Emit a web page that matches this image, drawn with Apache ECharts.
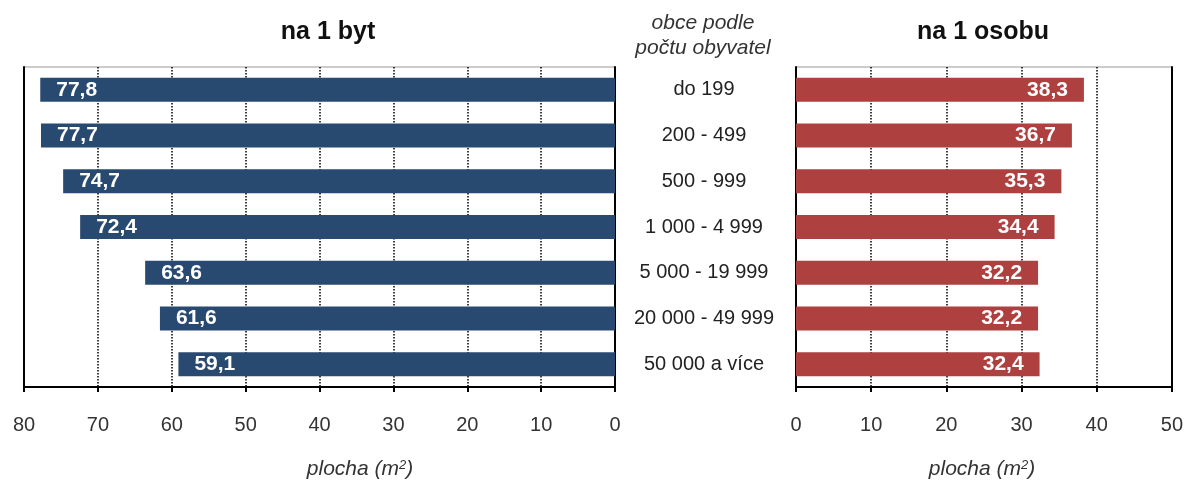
<!DOCTYPE html>
<html><head><meta charset="utf-8">
<script src="https://cdn.jsdelivr.net/npm/echarts@6/dist/echarts.min.js"></script>
<style>html,body{margin:0;padding:0;background:#fff}#c{width:1186px;height:481px}</style>
</head><body><div id="c"></div>
<script>
const categories = ['do 199','200 - 499','500 - 999','1 000 - 4 999','5 000 - 19 999','20 000 - 49 999','50 000 a více'];
const perDwelling = [77.8, 77.7, 74.7, 72.4, 63.6, 61.6, 59.1];
const perPerson = [38.3, 36.7, 35.3, 34.4, 32.2, 32.2, 32.4];
const leftTicks = [0,10,20,30,40,50,60,70,80];
const rightTicks = [0,10,20,30,40,50];

const FONT = '"Liberation Sans", Arial, sans-serif';
const fmt = v => v.toFixed(1).replace('.', ',');
const chart = echarts.init(document.getElementById('c'));
const xCommon = {
  type: 'value', interval: 10,
  axisLine: {show: true, lineStyle: {color: '#000', width: 2}},
  axisTick: {show: true, length: 5, lineStyle: {color: '#000', width: 2}},
  axisLabel: {color: '#333', fontSize: 20, fontFamily: FONT, margin: 28},
  splitLine: {show: true, lineStyle: {color: '#000', type: [1.5, 1.5], width: 1.5}}
};
const nameStyle = {fontStyle: 'italic', fontWeight: 'normal', fontSize: 21, fontFamily: FONT, color: '#333'};
const supStyle = {fontStyle: 'italic', fontWeight: 'normal', fontSize: 13, fontFamily: FONT, color: '#333', verticalAlign: 'top', padding: [0, 0, 8, 0]};
chart.setOption({
  animation: false,
  title: [
    {text: 'na 1 byt', left: 328, top: 20, padding: 0, textAlign: 'center', textStyle: {fontSize: 25, fontWeight: 'bold', fontFamily: FONT, color: '#111'}},
    {text: 'na 1 osobu', left: 983, top: 20, padding: 0, textAlign: 'center', textStyle: {fontSize: 25, fontWeight: 'bold', fontFamily: FONT, color: '#111'}},
    {text: 'obce podle\npočtu obyvatel', left: 703, top: 11, padding: 0, textAlign: 'center', textStyle: {fontSize: 21, fontStyle: 'italic', fontWeight: 'normal', fontFamily: FONT, color: '#333', lineHeight: 25}},
    {text: 'plocha (m{s|2})', left: 360, top: 459, padding: 0, textAlign: 'center', textStyle: Object.assign({}, nameStyle, {rich: {s: supStyle}})},
    {text: 'plocha (m{s|2})', left: 982, top: 459, padding: 0, textAlign: 'center', textStyle: Object.assign({}, nameStyle, {rich: {s: supStyle}})}
  ],
  grid: [
    {left: 24, right: 571, top: 67, height: 320, show: true, borderColor: '#999', borderWidth: 1},
    {left: 796, right: 14, top: 67, height: 320, show: true, borderColor: '#999', borderWidth: 1}
  ],
  xAxis: [
    Object.assign({}, xCommon, {gridIndex: 0, min: 0, max: 80, inverse: true,
      axisLabel: Object.assign({}, xCommon.axisLabel, {customValues: leftTicks})}),
    Object.assign({}, xCommon, {gridIndex: 1, min: 0, max: 50,
      axisLabel: Object.assign({}, xCommon.axisLabel, {customValues: rightTicks})})
  ],
  yAxis: [
    {type: 'category', gridIndex: 0, data: categories, inverse: true, position: 'right',
      axisLine: {show: true, lineStyle: {color: '#000', width: 2}}, axisTick: {show: false}, axisLabel: {show: false}},
    {type: 'category', gridIndex: 1, data: categories, inverse: true, position: 'left',
      axisLine: {show: true, lineStyle: {color: '#000', width: 2}}, axisTick: {show: false},
      axisLabel: {show: true, align: 'center', margin: 92, fontSize: 20, fontFamily: FONT, color: '#222'}},
    {type: 'category', gridIndex: 0, data: categories, inverse: true, position: 'left',
      axisLine: {show: true, onZero: false, lineStyle: {color: '#000', width: 2}}, axisTick: {show: false}, axisLabel: {show: false}},
    {type: 'category', gridIndex: 1, data: categories, inverse: true, position: 'right',
      axisLine: {show: true, onZero: false, lineStyle: {color: '#000', width: 2}}, axisTick: {show: false}, axisLabel: {show: false}}
  ],
  series: [
    {type: 'bar', xAxisIndex: 0, yAxisIndex: 0, data: perDwelling, barWidth: 24,
      itemStyle: {color: '#294a70'},
      label: {show: true, position: 'insideLeft', distance: 16, formatter: p => fmt(p.value), color: '#fff', fontWeight: 'bold', fontSize: 21, fontFamily: FONT}},
    {type: 'bar', xAxisIndex: 1, yAxisIndex: 1, data: perPerson, barWidth: 24,
      itemStyle: {color: '#ae403f'},
      label: {show: true, position: 'insideRight', distance: 16, formatter: p => fmt(p.value), color: '#fff', fontWeight: 'bold', fontSize: 21, fontFamily: FONT}}
  ]
});
</script></body></html>
